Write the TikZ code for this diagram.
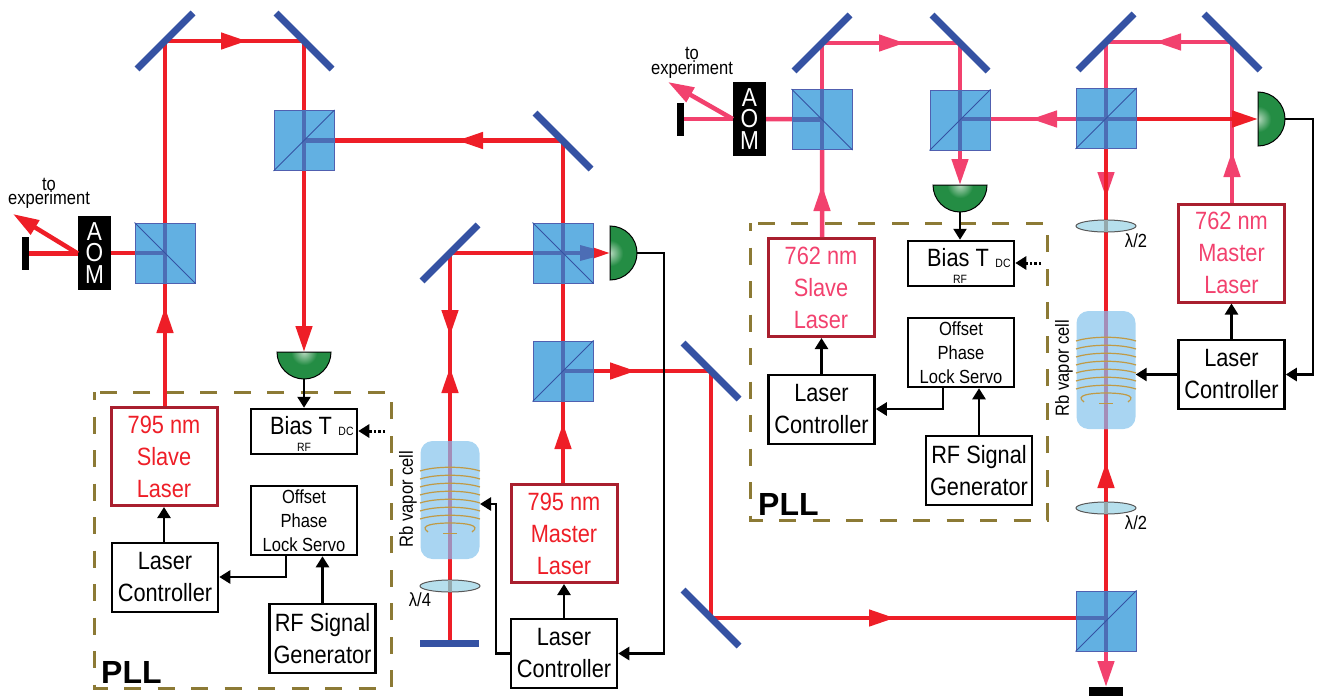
\documentclass[tikz,border=0pt]{standalone}
\usepackage{fontspec}
\usepackage{tikz}
\usetikzlibrary{arrows.meta}
\setmainfont{Liberation Sans}[FakeStretch=0.87]
\newfontfamily\pllfont{Liberation Sans}
\definecolor{beamred}{HTML}{EE1E27}
\definecolor{beampink}{HTML}{F2416E}
\definecolor{laseredge}{HTML}{A91F2E}
\definecolor{mirrorblue}{HTML}{3552A3}
\definecolor{cubeblue}{HTML}{62B0E2}
\definecolor{cubeedge}{HTML}{5060B0}
\definecolor{inbeam}{HTML}{4C6DB5}
\definecolor{pdgreen}{HTML}{248D44}
\definecolor{pdlight}{HTML}{B5D8BE}
\definecolor{cellblue}{HTML}{A9D5F2}
\definecolor{incell}{HTML}{A48DB8}
\definecolor{lensblue}{HTML}{B6DFEC}
\definecolor{inlens}{HTML}{94A8AC}
\definecolor{coilgold}{HTML}{C09A45}
\definecolor{pllbrown}{HTML}{8C7A35}
\pgfdeclareradialshading{pdshade}{\pgfpoint{0bp}{0bp}}{color(0bp)=(pdlight); color(12bp)=(pdgreen); color(50bp)=(pdgreen)}
\tikzset{
	redbeam/.style={draw=beamred,line width=4.5pt},
	pinkbeam/.style={draw=beampink,line width=4.5pt},
	cubebeam/.style={draw=inbeam,line width=4.5pt},
	rhead/.style={-{Triangle[length=26pt,width=16pt]}},
	mirror/.style={draw=mirrorblue,line width=7pt},
	cube/.style={fill=cubeblue,draw=cubeedge,line width=1pt,minimum size=60pt,inner sep=0pt},
	cubeline/.style={draw=mirrorblue,line width=1pt},
	sig/.style={draw=black,line width=2.5pt,-{Triangle[length=11pt,width=13pt]}},
	sigdots/.style={draw=black,line width=3pt,dash pattern=on 2.5pt off 2pt,-{Triangle[length=11pt,width=13pt]}},
	ebox/.style={draw=black,line width=2.5pt,minimum width=106pt,minimum height=69pt,inner sep=0pt,align=center,font=\fontsize{25}{32}\selectfont},
	servobox/.style={ebox,font=\fontsize{19}{24}\selectfont},
	biasbox/.style={draw=black,line width=2.5pt,minimum width=106pt,minimum height=45pt,inner sep=0pt},
	laserbox/.style={draw=laseredge,line width=3pt,minimum width=106pt,minimum height=98pt,inner sep=0pt,align=center,font=\fontsize{25}{32}\selectfont},
	aom/.style={fill=black,text=white,minimum width=33pt,minimum height=74pt,inner sep=0pt,align=center,font=\fontsize{26}{21.5}\selectfont},
	dump/.style={fill=black,inner sep=0pt},
	small/.style={inner sep=0pt,font=\fontsize{12}{14}\selectfont},
	bigtext/.style={inner sep=0pt,font=\fontsize{25}{32}\selectfont},
	label/.style={inner sep=0pt,align=center,font=\fontsize{19}{14.5}\selectfont},
	pll/.style={draw=pllbrown,line width=3pt,dash pattern=on 17pt off 16.5pt,dash phase=9pt},
	plltext/.style={inner sep=0pt,anchor=base west,font=\fontsize{32}{36}\selectfont\pllfont\bfseries},
	rbcell/.style={fill=cellblue,rounded corners=12pt,minimum width=59pt,minimum height=118pt,inner sep=0pt},
	lens/.style={fill=lensblue,draw=black!65,line width=1pt},
	coil/.style={draw=coilgold,line width=1.2pt}
}
\begin{document}
\begin{tikzpicture}[x=1pt,y=-1pt]
	\useasboundingbox (0,0) rectangle (1317,696);

	% electronics, left
	\draw[pll] (94,392) rectangle (391,688);
	\node[laserbox,text=beamred] (slaveL) at (164,456.5) {795 nm\\Slave\\Laser};
	\node[laserbox,text=beamred] (masterL) at (564,533.5) {795 nm\\Master\\Laser};
	\node[ebox] (ctrlA) at (165,577.5) {Laser\\Controller};
	\node[ebox] (ctrlB) at (564,653.5) {Laser\\Controller};
	\node[servobox] (servoL) at (304,520.5) {Offset\\Phase\\Lock Servo};
	\node[ebox] (rfL) at (322.5,638.5) {RF Signal\\Generator};
	\node[biasbox] (biasL) at (304,431.5) {};
	\node[bigtext] (biasTextL) at (301,426) {Bias T};
	\node[small] (dcL) at (346,431) {DC};
	\node[small] (rfTagL) at (304,447) {RF};
	\node[plltext] (pllL) at (101,683) {PLL};

	% electronics, right
	\draw[pll] (750,223) rectangle (1047,520);
	\node[laserbox,text=beampink] (slaveR) at (821,287.5) {762 nm\\Slave\\Laser};
	\node[laserbox,text=beampink] (masterR) at (1231.5,253) {762 nm\\Master\\Laser};
	\node[ebox] (ctrlC) at (821.5,409.5) {Laser\\Controller};
	\node[ebox] (ctrlD) at (1231.5,374.5) {Laser\\Controller};
	\node[servobox] (servoR) at (961,352.5) {Offset\\Phase\\Lock Servo};
	\node[ebox] (rfR) at (979,470.5) {RF Signal\\Generator};
	\node[biasbox] (biasR) at (961,263.5) {};
	\node[bigtext] (biasTextR) at (958,258) {Bias T};
	\node[small] (dcR) at (1003,263) {DC};
	\node[small] (rfTagR) at (960,279) {RF};
	\node[plltext] (pllR) at (758,515) {PLL};

	% beam corners
	\coordinate (mirA) at (165,41);
	\coordinate (mirB) at (304,41);
	\coordinate (mirC) at (563,141);
	\coordinate (mirD) at (450,253);
	\coordinate (mirE) at (711,371);
	\coordinate (mirF) at (711,618);
	\coordinate (mirG) at (822,43);
	\coordinate (mirH) at (960,43);
	\coordinate (mirI) at (1106,42);
	\coordinate (mirJ) at (1232,42);
	\coordinate (endL) at (450,640);
	\coordinate (outL) at (13,214);
	\coordinate (outR) at (668,82);
	\coordinate (pdA) at (304,352);
	\coordinate (pdB) at (610,253);
	\coordinate (pdC) at (960,185);
	\coordinate (pdD) at (1258,119);

	\node[cube] (cubeA) at (304,140.5) {};
	\node[cube] (cubeB) at (165,253) {};
	\node[cube] (cubeC) at (563,253) {};
	\node[cube] (cubeD) at (563,371) {};
	\node[cube] (cubeE) at (822,119.5) {};
	\node[cube] (cubeF) at (960,120) {};
	\node[cube] (cubeG) at (1106,118.5) {};
	\node[cube] (cubeH) at (1106,621) {};
	\node[aom] (aomL) at (94.5,253) {A\\O\\M};
	\node[aom] (aomR) at (749.5,119) {A\\O\\M};
	\node[dump,minimum width=7pt,minimum height=33pt] (dumpA) at (25.5,253.5) {};
	\node[dump,minimum width=7pt,minimum height=33pt] (dumpB) at (680.5,119) {};
	\node[dump,minimum width=34pt,minimum height=9pt] (dumpC) at (1106,691.5) {};

	% beams, left
	\draw[redbeam] (slaveL.north -| cubeB) -- (cubeB.center) -- (aomL.east);
	\draw[redbeam] (cubeB.center) -- (mirA) -- (mirB) -- (cubeA.center) -- (cubeA.center -| mirC) -- (cubeC.center) -- (cubeD.center);
	\draw[redbeam] (aomL.west |- dumpA) -- (dumpA.east);
	\draw[redbeam,rhead] (aomL.west |- dumpA) -- (outL);
	\draw[redbeam,rhead] (cubeA.center) -- (pdA);
	\draw[redbeam,rhead] (219,41) -- (247,41);
	\draw[redbeam,rhead] (483,140.5) -- (457,140.5);
	\draw[redbeam,rhead] (165,332) -- (165,307);
	\draw[redbeam] (masterL.north -| cubeD) -- (cubeD.center) -- (mirE) -- (mirF) -- (cubeH.center |- mirF);
	\draw[redbeam,rhead] (cubeC.center) -- (pdB);
	\draw[redbeam] (cubeC.center) -- (mirD) -- (endL);
	\draw[redbeam,rhead] (450,310) -- (450,336);
	\draw[redbeam,rhead] (450,393) -- (450,367);
	\draw[redbeam,rhead] (563,449) -- (563,423);
	\draw[redbeam,rhead] (610,371) -- (636,371);
	\draw[redbeam,rhead] (869,618) -- (895,618);

	% beams, right
	\draw[pinkbeam] (slaveR.north -| cubeE) -- (cubeE.center) -- (aomR.east);
	\draw[pinkbeam] (cubeE.center) -- (mirG) -- (mirH) -- (cubeF.center);
	\draw[pinkbeam] (960,119) -- (1106,119) -- (mirI) -- (mirJ) -- (masterR.north -| mirJ);
	\draw[pinkbeam] (aomR.west |- dumpB) -- (dumpB.east);
	\draw[pinkbeam,rhead] (aomR.west |- dumpB) -- (outR);
	\draw[pinkbeam,rhead] (cubeF.center) -- (pdC);
	\draw[pinkbeam,rhead] (822,212) -- (822,185);
	\draw[pinkbeam,rhead] (879,43) -- (905,43);
	\draw[pinkbeam,rhead] (1057,119) -- (1031,119);
	\draw[pinkbeam,rhead] (1181,42) -- (1155,42);
	\draw[pinkbeam,rhead] (1232,177) -- (1232,151);
	\draw[pinkbeam,rhead] (1106,172) -- (1106,198);
	\draw[redbeam] (cubeG.center) -- (cubeH.center);
	\draw[redbeam,rhead] (1106,119) -- (pdD);
	\draw[redbeam,rhead] (1106,488) -- (1106,462);
	\draw[pinkbeam,rhead] (1106,652) -- (1106,687);

	% cubes sit over the beams
	\foreach \c in {cubeA,cubeB,cubeC,cubeD,cubeE,cubeF,cubeG,cubeH}
		\node[cube] at (\c) {};
	\foreach \c in {cubeA,cubeB,cubeC,cubeD,cubeE,cubeF,cubeG,cubeH}
		\draw[cubebeam] (\c.north) -- (\c.south);
	\draw[cubebeam] (cubeA.center) -- (cubeA.east);
	\draw[cubebeam] (cubeB.west) -- (cubeB.center);
	\draw[cubebeam] (cubeC.west) -- (cubeC.east);
	\draw[cubebeam] (cubeD.center) -- (cubeD.east);
	\draw[cubebeam] (cubeE.west) -- (cubeE.center);
	\draw[cubebeam] (cubeF.center |- 0,119) -- (cubeF.east |- 0,119);
	\draw[cubebeam] (cubeG.west |- 0,119) -- (cubeG.east |- 0,119);
	\draw[cubebeam] (cubeH.west |- mirF) -- (cubeH.center |- mirF);
	\fill[inbeam] (580,245) -- (593,248.5) -- (593,257.5) -- (580,261) -- cycle;
	\foreach \c in {cubeA,cubeD,cubeF,cubeG,cubeH}
		\draw[cubeline] (\c.south west) -- (\c.north east);
	\foreach \c in {cubeB,cubeC,cubeE}
		\draw[cubeline] (\c.north west) -- (\c.south east);

	% mirrors
	\foreach \m in {mirA,mirD,mirG,mirI}
		\draw[mirror] (\m) ++(-28,28) -- ++(56,-56);
	\foreach \m in {mirB,mirC,mirE,mirF,mirH,mirJ}
		\draw[mirror] (\m) ++(-28,-28) -- ++(56,56);
	\draw[mirror] (420,643.5) -- (479,643.5);

	% vapor cells
	\node[rbcell] (cellL) at (450,500) {};
	\node[rbcell] (cellR) at (1106,370) {};
	\draw[draw=incell,line width=4.5pt] (cellL.north) -- (cellL.south);
	\draw[draw=incell,line width=4.5pt] (cellR.north) -- (cellR.south);
	\foreach \cx/\cy in {450/441,1106/311} {
		\foreach \n in {0,...,6}
			\draw[coil] (\cx-30,\cy+30+8*\n) .. controls (\cx-15,\cy+25+8*\n) and (\cx+15,\cy+25+8*\n) .. (\cx+30,\cy+30+8*\n);
		\draw[coil] (\cx-22,\cy+91) .. controls (\cx-32,\cy+84) and (\cx-15,\cy+82) .. (\cx,\cy+82) .. controls (\cx+15,\cy+82) and (\cx+32,\cy+84) .. (\cx+22,\cy+91);
		\draw[coil] (\cx-7,\cy+92.5) -- (\cx+7,\cy+92.5);
	}
	\node[label,rotate=90] (cellTextL) at (408,499) {Rb vapor cell};
	\node[label,rotate=90] (cellTextR) at (1064,368) {Rb vapor cell};

	% wave plates
	\foreach \lx/\ly in {450/586,1106/226,1106/508} {
		\draw[lens] (\lx,\ly) circle (30 and 6);
		\draw[draw=inlens,line width=4.5pt] (\lx,\ly-6) -- (\lx,\ly+6);
	}
	\node[label] (plateA) at (420,600) {λ/4};
	\node[label] (plateB) at (1136,241) {λ/2};
	\node[label] (plateC) at (1136,523) {λ/2};

	% photodiodes
	\foreach \cx/\cy/\a in {304/352/180,610/253/90,960/185/180,1258/119/90} {
		\begin{scope}
			\clip (\cx,\cy) ++(\a:27) arc (\a:\a-180:27) -- cycle;
			\shade[shading=pdshade] (\cx,\cy) circle (27);
		\end{scope}
		\draw[line width=1pt] (\cx,\cy) ++(\a:27) arc (\a:\a-180:27) -- cycle;
	}

	% texts by the AOMs
	\node[label] (toL) at (49,193.5) {to\\experiment};
	\node[label] (toR) at (692,63) {to\\experiment};

	% signals, left
	\draw[sig] (304,379) -- (biasL.north);
	\coordinate (dotsL) at (385,431);
	\draw[sigdots] (dotsL) -- (biasL.east |- dotsL);
	\draw[sig] (ctrlA.north -| slaveL) -- (slaveL.south);
	\draw[sig] ([xshift=-18pt]servoL.south) |- (ctrlA.east |- 0,577);
	\draw[sig] (rfL.north) -- (servoL.south -| rfL);
	\draw[sig] (ctrlB.north) -- (masterL.south);
	\draw[sig] (ctrlB.west) -| (496,504) -- (480,504);
	\draw[sig] (637,253) -- (664,253) |- (ctrlB.east);

	% signals, right
	\draw[sig] (960,212) -- (biasR.north -| 960,0);
	\coordinate (dotsR) at (1041,263);
	\draw[sigdots] (dotsR) -- (biasR.east |- dotsR);
	\draw[sig] (ctrlC.north) -- (slaveR.south -| ctrlC);
	\draw[sig] ([xshift=-18pt]servoR.south) |- (ctrlC.east |- 0,409);
	\draw[sig] (rfR.north) -- (servoR.south -| rfR);
	\draw[sig] (ctrlD.north) -- (masterR.south);
	\draw[sig] (ctrlD.west) -- (cellR.east |- ctrlD);
	\draw[sig] (1285,119) -- (1313,119) |- (ctrlD.east);
\end{tikzpicture}
\end{document}
